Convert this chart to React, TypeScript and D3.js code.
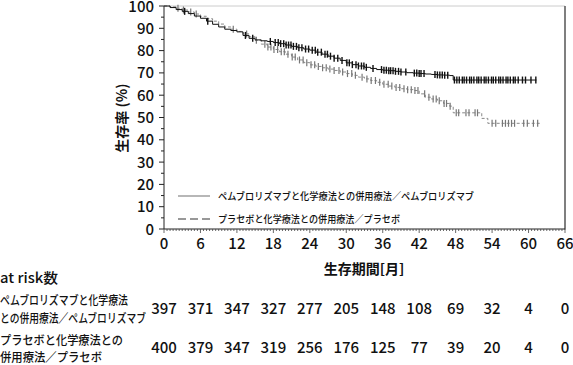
import React, { useRef, useEffect } from "react"
import * as d3 from "d3"

// KM曲線（月, 生存率%）
const pembroTime = [0, 1, 2, 3, 4, 5, 6, 7, 8, 9, 10, 11, 12, 13, 14, 15, 16, 17, 18, 19, 20, 21, 22, 23, 24, 25, 26, 27, 28, 29, 30, 31, 32, 33, 34, 35, 36, 37, 38, 39, 40, 41, 42, 43, 44, 45, 46, 47, 47.6, 61.3]
const pembroSurv = [100, 99.3, 98.4, 97.6, 96.6, 95.5, 94.5, 93.2, 91.8, 90.6, 89.6, 89, 88.4, 86.8, 85.5, 84.8, 84.4, 84.1, 83.6, 83.1, 82.5, 81.9, 81.3, 80.7, 80.2, 79.3, 78.4, 77.5, 76.6, 75.6, 74.5, 73.7, 73.1, 72.5, 72, 71.5, 71.2, 71, 70.7, 70.4, 70.1, 69.9, 69.7, 69.5, 69.3, 69.1, 69, 68.8, 66.8, 66.8]
const placeboTime = [0, 1, 2, 3, 4, 5, 6, 7, 8, 9, 10, 11, 12, 13, 14, 15, 16, 17, 18, 19, 20, 21, 22, 23, 24, 25, 26, 27, 28, 29, 30, 31, 32, 33, 34, 35, 36, 37, 38, 39, 40, 41, 42, 43, 44, 45, 46, 47, 47.6, 52.3, 53.3, 61.9]
const placeboSurv = [100, 99.6, 99, 98.2, 97.3, 96.4, 95.4, 94.3, 93.2, 91.9, 90.6, 89.6, 88.6, 87.5, 86.2, 84.6, 82.9, 81.6, 80.5, 79.5, 78.4, 77.1, 75.8, 74.6, 73.6, 72.9, 72.3, 71.7, 71.1, 70.4, 69.7, 68.9, 68.1, 67.3, 66.6, 65.8, 64.9, 64.1, 63.5, 62.9, 62.5, 62.1, 60.6, 59.1, 58.3, 57.5, 56.3, 55.1, 52.1, 49.6, 47.4, 47.4]

// 打ち切り
const pembroCensor = [3.4, 7.2, 13.4, 14.6, 17.5, 18.3, 18.8, 19.2, 19.7, 20.1, 20.5, 20.9, 21.3, 21.8, 22.2, 22.7, 23.3, 23.8, 24.4, 24.9, 25.3, 25.9, 26.5, 26.9, 27.4, 28, 28.6, 29.3, 30.1, 30.5, 31, 31.6, 32, 32.5, 32.9, 33.3, 34.4, 35.8, 36.2, 36.6, 37, 37.3, 37.7, 38.1, 38.6, 39, 39.8, 41.2, 41.6, 42, 42.3, 42.8, 44.6, 45, 45.4, 45.8, 46.2, 46.7, 47.8, 48.2, 48.6, 49.1, 49.4, 49.8, 50.3, 50.6, 51, 51.5, 51.8, 52.2, 52.7, 53, 53.4, 53.9, 54.2, 54.6, 55.1, 55.4, 55.8, 56.3, 56.6, 57, 57.5, 57.8, 58.3, 59, 59.5, 60.4, 61.2]
const placeboCensor = [2.3, 3.2, 4.4, 5.3, 11.4, 13.6, 15.2, 16.6, 17.1, 17.6, 18.1, 18.7, 19.3, 19.8, 20.4, 21.1, 21.6, 22.3, 22.9, 23.5, 24.2, 24.8, 25.4, 26.1, 26.7, 27.3, 28, 28.8, 29.4, 30.2, 30.9, 31.5, 32.6, 33.4, 34.1, 34.8, 35.5, 36.2, 36.9, 37.5, 38.2, 38.8, 39.5, 40.1, 40.7, 41.3, 41.8, 42.9, 43.6, 44.3, 44.8, 45.3, 46.1, 46.5, 47.1, 48.1, 48.5, 49.7, 50.2, 51.2, 51.6, 54, 54.6, 55.7, 56.2, 56.7, 57.2, 57.7, 59.2, 59.8, 60.8, 61.5]

const xTicks = [0, 6, 12, 18, 24, 30, 36, 42, 48, 54, 60, 66]
const yTicks = [0, 10, 20, 30, 40, 50, 60, 70, 80, 90, 100]
const atRiskPembro = [397, 371, 347, 327, 277, 205, 148, 108, 69, 32, 4, 0]
const atRiskPlacebo = [400, 379, 347, 319, 256, 176, 125, 77, 39, 20, 4, 0]

const pembroLabel = "ペムブロリズマブと化学療法との併用療法／ペムブロリズマブ"
const placeboLabel = "プラセボと化学療法との併用療法／プラセボ"

const JP = "'Noto Sans CJK JP', sans-serif"

const App = () => {
  const ref = useRef<SVGSVGElement>(null)
  const width = 573
  const height = 365

  useEffect(() => {
    const svg = d3.select(ref.current)
    svg.selectAll("*").remove()

    const x = d3.scaleLinear().domain([0, 66]).range([164, 565])
    const y = d3.scaleLinear().domain([0, 100]).range([229, 6])

    // 枠
    svg.append("line").attr("x1", 164).attr("x2", 565).attr("y1", 6).attr("y2", 6)
      .attr("stroke", "#ccc").attr("stroke-width", 1)
    svg.append("line").attr("x1", 565).attr("x2", 565).attr("y1", 6).attr("y2", 229.5)
      .attr("stroke", "#555").attr("stroke-width", 1.5)

    // y軸
    const yAxis = svg.append("g").attr("transform", "translate(164,0)")
    yAxis.append("line").attr("y1", y(100)).attr("y2", y(0)).attr("stroke", "#222")
    d3.range(0, 101, 5).forEach(v => {
      yAxis.append("line").attr("x1", 0).attr("x2", v % 10 === 0 ? -5 : -3)
        .attr("y1", y(v)).attr("y2", y(v)).attr("stroke", "#222")
    })
    yAxis.selectAll("text.yt").data(yTicks).enter().append("text")
      .attr("x", -10).attr("y", d => y(d) + 5.5)
      .attr("text-anchor", "end").attr("font-family", JP).attr("font-size", 15)
      .attr("font-weight", 500).attr("fill", "#111").text(d => d)

    // x軸
    const xAxis = svg.append("g").attr("transform", "translate(0,229)")
    xAxis.append("line").attr("x1", x(0)).attr("x2", x(66)).attr("stroke", "#222")
    d3.range(0, 66.1, 0.5).forEach(m => {
      xAxis.append("line").attr("x1", x(m)).attr("x2", x(m))
        .attr("y1", 0).attr("y2", m % 6 === 0 ? 4 : 2).attr("stroke", "#444").attr("stroke-width", 0.8)
    })
    xAxis.selectAll("text.xt").data(xTicks).enter().append("text")
      .attr("x", d => x(d)).attr("y", 20)
      .attr("text-anchor", "middle").attr("font-family", JP).attr("font-size", 15)
      .attr("font-weight", 500).attr("fill", "#111").text(d => d)

    // 軸タイトル
    svg.append("text").attr("transform", "translate(127,118) rotate(-90)")
      .attr("text-anchor", "middle").attr("font-family", JP).attr("font-size", 14)
      .attr("font-weight", "bold").attr("fill", "#111").text("生存率 (%)")
    svg.append("text").attr("x", 364).attr("y", 274)
      .attr("text-anchor", "middle").attr("font-family", JP).attr("font-size", 14)
      .attr("font-weight", "bold").attr("fill", "#111").text("生存期間[月]")

    // 曲線
    const line = d3.line<number>().curve(d3.curveStepAfter)
    const drawCurve = (ts: number[], ss: number[], color: string, dash: string | null) => {
      const pts = ts.map((t, i) => [x(t), y(ss[i])] as [number, number])
      svg.append("path").attr("d", line(pts as any)).attr("fill", "none")
        .attr("stroke", color).attr("stroke-width", 1)
        .attr("stroke-dasharray", dash)
    }
    const survAt = (ts: number[], ss: number[], t: number) => {
      const i = d3.bisectRight(ts, t) - 1
      return ss[Math.max(0, i)]
    }
    const drawCensor = (cs: number[], ts: number[], ss: number[], color: string, w: number) => {
      svg.append("g").selectAll("line").data(cs).enter().append("line")
        .attr("x1", d => x(d)).attr("x2", d => x(d))
        .attr("y1", d => y(survAt(ts, ss, d)) - 3.5)
        .attr("y2", d => y(survAt(ts, ss, d)) + 3.5)
        .attr("stroke", color).attr("stroke-width", w)
    }
    drawCurve(placeboTime, placeboSurv, "#888", "3,2")
    drawCensor(placeboCensor, placeboTime, placeboSurv, "#777", 1.2)
    drawCurve(pembroTime, pembroSurv, "#111", null)
    drawCensor(pembroCensor, pembroTime, pembroSurv, "#111", 1.4)

    // 凡例
    svg.append("line").attr("x1", 178).attr("x2", 210).attr("y1", 196).attr("y2", 196)
      .attr("stroke", "#888").attr("stroke-width", 1.2)
    svg.append("line").attr("x1", 178).attr("x2", 212).attr("y1", 219).attr("y2", 219)
      .attr("stroke", "#333").attr("stroke-width", 1.2).attr("stroke-dasharray", "8,4")
    svg.append("text").attr("x", 218).attr("y", 200).attr("font-family", JP).attr("font-size", 10)
      .attr("font-weight", 500).attr("textLength", 256).attr("lengthAdjust", "spacingAndGlyphs")
      .attr("fill", "#111").text(pembroLabel)
    svg.append("text").attr("x", 218).attr("y", 223).attr("font-family", JP).attr("font-size", 10)
      .attr("font-weight", 500).attr("textLength", 182).attr("lengthAdjust", "spacingAndGlyphs")
      .attr("fill", "#111").text(placeboLabel)

    // at risk 表
    const lbl = (t: string, yy: number, len: number, size: number) =>
      svg.append("text").attr("x", 0).attr("y", yy).attr("font-family", JP).attr("font-size", size)
        .attr("font-weight", 500).attr("textLength", len).attr("lengthAdjust", "spacingAndGlyphs")
        .attr("fill", "#111").text(t)
    lbl("at risk数", 283, 58, 14)
    lbl("ペムブロリズマブと化学療法", 305, 128, 12.5)
    lbl("との併用療法／ペムブロリズマブ", 323, 146, 12.5)
    lbl("プラセボと化学療法との", 345, 123, 12.5)
    lbl("併用療法／プラセボ", 362, 102, 12.5)

    const row = (vals: number[], yy: number) =>
      svg.append("g").selectAll("text").data(vals).enter().append("text")
        .attr("x", (d, i) => x(xTicks[i])).attr("y", yy)
        .attr("text-anchor", "middle").attr("font-family", JP).attr("font-size", 15)
        .attr("font-weight", 500).attr("fill", "#111").text(d => d)
    row(atRiskPembro, 314)
    row(atRiskPlacebo, 353)
  }, [])

  return (
    <svg ref={ref} width={width} height={height}
      style={{ position: "absolute", left: 0, top: 0, background: "#fff" }} />
  )
}

export default App
